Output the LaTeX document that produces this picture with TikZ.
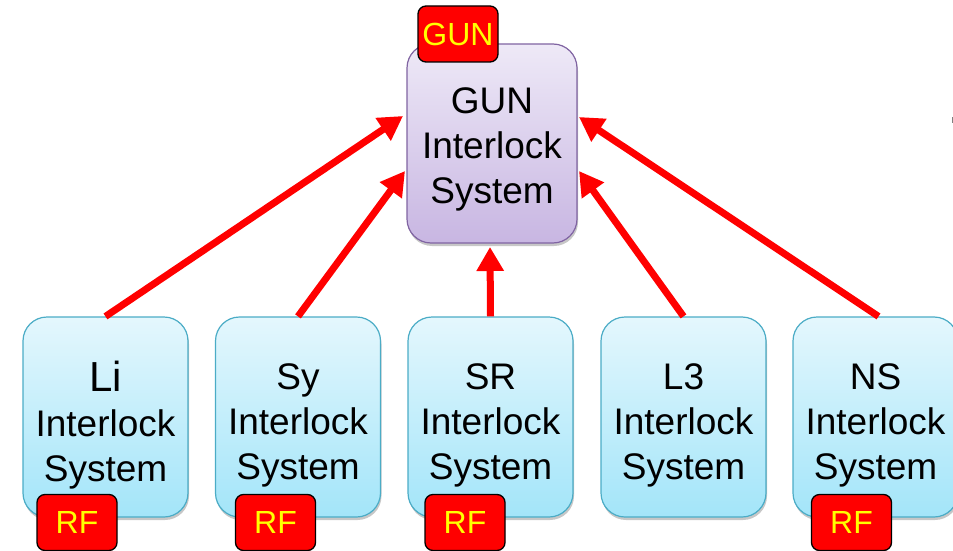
\documentclass[tikz,border=0pt]{standalone}
\usepackage{fontspec}
\setmainfont{Liberation Sans}
\usetikzlibrary{arrows.meta,shadows}

\definecolor{gunTop}{HTML}{EEE9F7}
\definecolor{gunBot}{HTML}{C8B6E2}
\definecolor{gunLine}{HTML}{8064A2}
\definecolor{sysTop}{HTML}{E4F7FD}
\definecolor{sysBot}{HTML}{A3E5F9}
\definecolor{sysLine}{HTML}{4BACC6}
\definecolor{tagRed}{HTML}{FF0000}
\definecolor{tagText}{HTML}{FFFF00}

\tikzset{
  boxshadow/.style={drop shadow={shadow xshift=1pt, shadow yshift=-3pt, fill=black, opacity=0.22}},
  gunbox/.style={rectangle, rounded corners=24pt, draw=gunLine, line width=1.2pt,
    top color=gunTop, bottom color=gunBot, boxshadow,
    minimum width=170pt, minimum height=199pt, inner sep=0pt},
  sysbox/.style={rectangle, rounded corners=24pt, draw=sysLine, line width=1.2pt,
    top color=sysTop, bottom color=sysBot, boxshadow,
    minimum width=165pt, minimum height=200pt, inner sep=0pt},
  boxtext/.style={inner sep=0pt, align=center, font=\fontsize{37}{45}\selectfont},
  tagbox/.style={rectangle, rounded corners=8pt, draw=black, line width=1.3pt,
    fill=tagRed, text=tagText, minimum width=80pt, minimum height=56pt,
    inner sep=0pt, font=\fontsize{32}{32}\selectfont},
  feed/.style={draw=tagRed, line width=7pt,
    -{Triangle[length=24pt,width=26pt]}},
}

\begin{document}
\begin{tikzpicture}[x=1pt,y=-1pt]
  \useasboundingbox (0,0) rectangle (953,551);

  % central gun interlock
  \node[gunbox] (gun) at (492,143.5) {};
  \node[boxtext] (gunT) at ([yshift=-6pt]gun.center) {GUN\\Interlock\\System};

  % subsystem interlocks
  \node[sysbox] (li) at (105.5,417) {};
  \node[sysbox] (sy) at (298,417) {};
  \node[sysbox] (sr) at (490.5,417) {};
  \node[sysbox] (lt) at (683.5,417) {};
  \node[sysbox] (ns) at (875.5,417) {};
  \node[boxtext] (liT) at ([yshift=-8pt]li.center) {\fontsize{42}{45}\selectfont Li\\Interlock\\System};
  \node[boxtext] (syT) at ([yshift=-8pt]sy.center) {Sy\\Interlock\\System};
  \node[boxtext] (srT) at ([yshift=-8pt]sr.center) {SR\\Interlock\\System};
  \node[boxtext] (ltT) at ([yshift=-8pt]lt.center) {L3\\Interlock\\System};
  \node[boxtext] (nsT) at ([yshift=-8pt]ns.center) {NS\\Interlock\\System};

  % arrow targets on the gun box edges
  \coordinate (tLi) at (403,116);
  \coordinate (tSy) at (405,171);
  \coordinate (tSr) at (490,247);
  \coordinate (tLt) at (579,171);
  \coordinate (tNs) at (579,117);

  \draw[feed] (li.north) -- (tLi);
  \draw[feed] (sy.north) -- (tSy);
  \draw[feed] (sr.north) -- (tSr);
  \draw[feed] (lt.north) -- (tLt);
  \draw[feed] ([xshift=3pt]ns.north) -- (tNs);

  % source tags
  \node[tagbox] (tgun) at (458,34) {GUN};
  \node[tagbox] (rfli) at (77,522.5) {RF};
  \node[tagbox] (rfsy) at (275.5,522.5) {RF};
  \node[tagbox] (rfsr) at (465,522.5) {RF};
  \node[tagbox] (rfns) at (851.5,522.5) {RF};

  % stray mark at the right edge
  \fill[gray] (951.5,117) rectangle (953,123);
\end{tikzpicture}
\end{document}
